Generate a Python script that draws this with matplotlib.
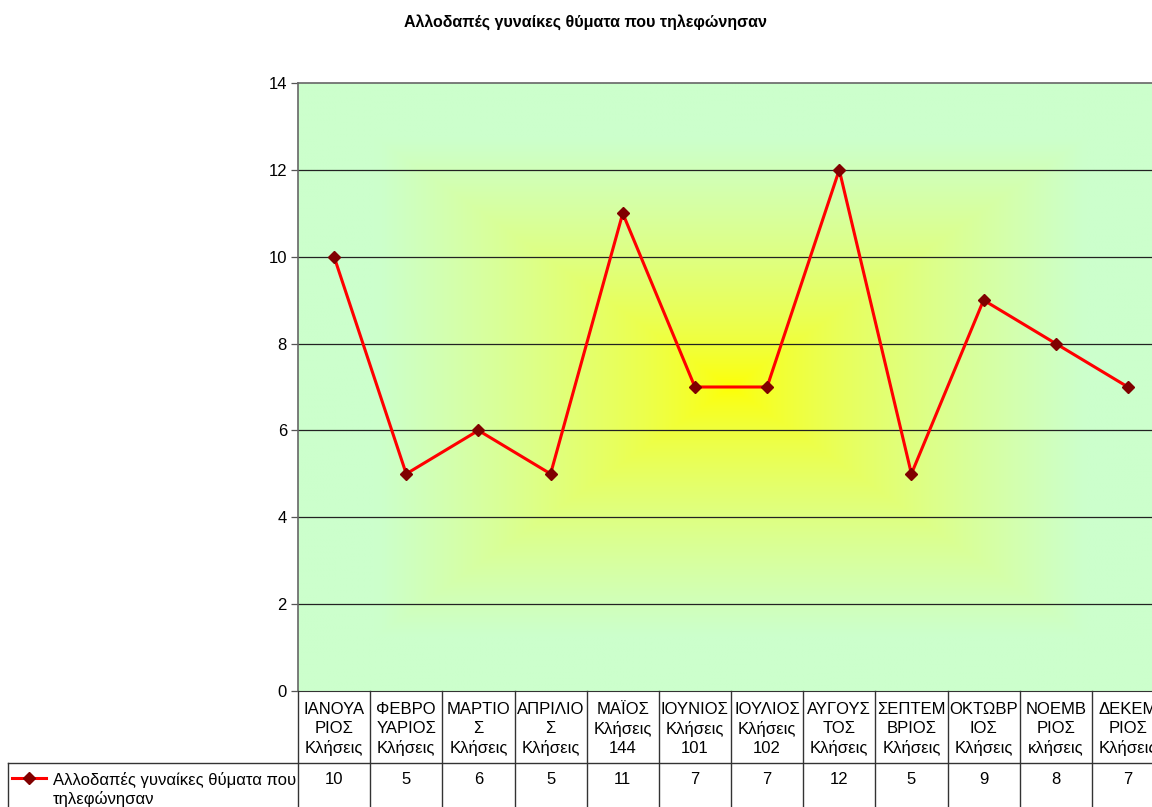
import numpy as np
import matplotlib
matplotlib.use("Agg")
import matplotlib.pyplot as plt
import matplotlib.transforms as mtransforms
from matplotlib.lines import Line2D

plt.rcParams['font.family'] = ['Liberation Sans', 'DejaVu Sans']

# --- data ---
title = "Αλλοδαπές γυναίκες θύματα που τηλεφώνησαν"
series_name = "Αλλοδαπές γυναίκες θύματα που\nτηλεφώνησαν"
categories = [
    "ΙΑΝΟΥΑ\nΡΙΟΣ\nΚλήσεις",
    "ΦΕΒΡΟ\nΥΑΡΙΟΣ\nΚλήσεις",
    "ΜΑΡΤΙΟ\nΣ\nΚλήσεις",
    "ΑΠΡΙΛΙΟ\nΣ\nΚλήσεις",
    "ΜΑΪΟΣ\nΚλήσεις\n144",
    "ΙΟΥΝΙΟΣ\nΚλήσεις\n101",
    "ΙΟΥΛΙΟΣ\nΚλήσεις\n102",
    "ΑΥΓΟΥΣ\nΤΟΣ\nΚλήσεις",
    "ΣΕΠΤΕΜ\nΒΡΙΟΣ\nΚλήσεις",
    "ΟΚΤΩΒΡ\nΙΟΣ\nΚλήσεις",
    "ΝΟΕΜΒ\nΡΙΟΣ\nκλήσεις",
    "ΔΕΚΕΜ\nΡΙΟΣ\nΚλήσεις",
]
values = [10, 5, 6, 5, 11, 7, 7, 12, 5, 9, 8, 7]
yticks = [0, 2, 4, 6, 8, 10, 12, 14]

W, H = 1152, 807
fig = plt.figure(figsize=(W / 100, H / 100), dpi=100)
fs = 12

# plot area runs a bit past the right edge, like the original
left_px, right_px, top_px, bot_px = 298, 1164, 83, 691
ax = fig.add_axes([left_px / W, 1 - bot_px / H,
                   (right_px - left_px) / W, (bot_px - top_px) / H])

n = len(values)
x = np.arange(n)
ax.set_xlim(-0.5, n - 0.5)
ax.set_ylim(0, 14)

# rectangular "from centre" gradient: yellow centre -> light green edges
gy, gx = np.mgrid[-1:1:300j, -1:1:300j]
t = np.clip(np.maximum(np.abs(gx), np.abs(gy)) / 0.82, 0, 1) ** 0.7
yellow = np.array([1.0, 1.0, 0.0])
green = np.array([0.8, 1.0, 0.8])
img = yellow[None, None, :] * (1 - t[..., None]) + green[None, None, :] * t[..., None]
ax.imshow(img, extent=[-0.5, n - 0.5, 0, 14], aspect='auto', zorder=0,
          interpolation='bilinear')

for yv in yticks[1:-1]:
    ax.axhline(yv, color='#222222', lw=0.9, zorder=1)

ax.plot(x, values, color='#ff0000', lw=2.2, marker='D', markersize=6,
        markerfacecolor='#800000', markeredgecolor='#800000', zorder=3)

ax.set_yticks(yticks)
ax.set_yticklabels([str(v) for v in yticks], fontsize=fs)
ax.set_xticks([])
ax.tick_params(axis='y', length=5, width=0.9, color='#555555', pad=3)
for s in ['left', 'top']:
    ax.spines[s].set_color('#666666')
    ax.spines[s].set_linewidth(1.2)
ax.spines['bottom'].set_color('#333333')
ax.spines['right'].set_visible(False)

# --- data table below the plot ---
tr = mtransforms.blended_transform_factory(ax.transData, fig.transFigure)

def fy(py):
    return 1 - py / H

row_split = 763
col_w = (right_px - left_px) / n
leg_left = -0.5 - (left_px - 8) / col_w

# column separators
for k in range(n + 1):
    ax.add_line(Line2D([k - 0.5, k - 0.5], [fy(bot_px), fy(H + 5)], transform=tr,
                       color='#333333', lw=1, clip_on=False))
ax.add_line(Line2D([leg_left, n - 0.5], [fy(row_split), fy(row_split)], transform=tr,
                   color='#333333', lw=1, clip_on=False))
ax.add_line(Line2D([leg_left, leg_left], [fy(row_split), fy(H + 5)], transform=tr,
                   color='#333333', lw=1, clip_on=False))

for i, (cat, v) in enumerate(zip(categories, values)):
    ax.text(i, fy(729), cat, transform=tr, ha='center', va='center',
            fontsize=fs, linespacing=1.32, clip_on=False)
    ax.text(i, fy(780), str(v), transform=tr, ha='center', va='center',
            fontsize=fs, clip_on=False)

# legend key in the table
lx0 = leg_left + 4 / col_w
lx1 = leg_left + 38 / col_w
ax.add_line(Line2D([lx0, lx1], [fy(778), fy(778)], transform=tr, color='#ff0000',
                   lw=2.2, clip_on=False))
ax.add_line(Line2D([(lx0 + lx1) / 2], [fy(778)], transform=tr, marker='D',
                   markersize=6, markerfacecolor='#800000',
                   markeredgecolor='#800000', clip_on=False))
ax.text(leg_left + 45 / col_w, fy(772), series_name, transform=tr, ha='left',
        va='top', fontsize=fs, linespacing=1.2, clip_on=False)

fig.text(586 / W, fy(22), title, ha='center', va='center', fontsize=11.5,
         fontweight='bold')

fig.savefig("out.png", dpi=100)
